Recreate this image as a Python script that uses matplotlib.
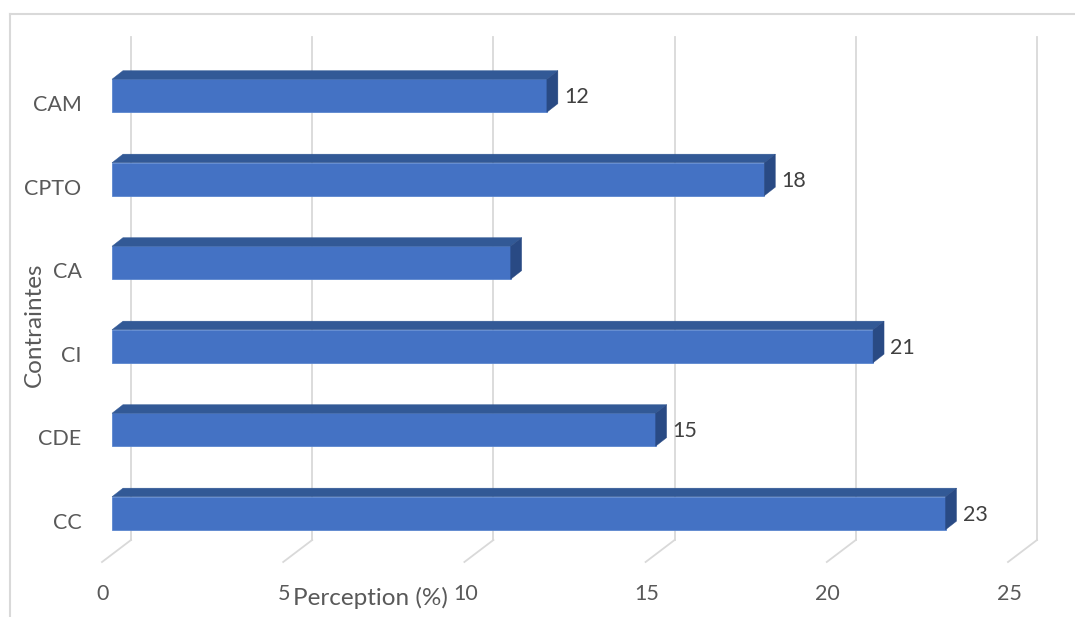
import matplotlib
matplotlib.use("Agg")
import matplotlib.pyplot as plt
from matplotlib.transforms import ScaledTranslation, blended_transform_factory
from matplotlib.patches import Polygon
from matplotlib.lines import Line2D

# ---- data ----
categories = ["CC", "CDE", "CI", "CA", "CPTO", "CAM"]
values = [23, 15, 21, 11, 18, 12]
labels_shown = [True, True, True, False, True, True]
x_ticks = [0, 5, 10, 15, 20, 25]
x_title = "Perception (%)"
y_title = "Contraintes"

FRONT = "#4472C4"
TOP = "#325996"
SIDE = "#294A84"
GRID = "#D9D9D9"
TXT = "#595959"
LBL = "#404040"

plt.rcParams['font.family'] = ['Lato', 'DejaVu Sans']

W, H = 1075, 617
dpi = 100
fig = plt.figure(figsize=(W / dpi, H / dpi), dpi=dpi)
ax = fig.add_axes([112 / W, (H - 555) / H, 906 / W, 501 / H])
ax.set_xlim(0, 25)
ax.set_ylim(-0.5, len(categories) - 0.5)
for s in ax.spines.values():
    s.set_visible(False)
ax.tick_params(length=0)

px = 1.0 / dpi
ux = 906 / 25.0   # px per x unit
uy = 501 / 6.0    # px per y unit
depth_dx, depth_dy = 11.0 / ux, 8.6 / uy
bh = 33.0 / uy

# back wall gridlines + floor lines
bt = blended_transform_factory(ax.transData, ax.transAxes)
back = bt + ScaledTranslation(19 * px, 0, fig.dpi_scale_trans)
front = bt + ScaledTranslation(-10 * px, 0, fig.dpi_scale_trans)
y_floor_back = (555 - 540) / 501.0
y_floor_front = (555 - 562) / 501.0
y_wall_top = (555 - 37) / 501.0
inv = ax.transData.inverted()
for t in x_ticks:
    ax.add_line(Line2D([t, t], [y_floor_back, y_wall_top], transform=back,
                       color=GRID, lw=1.3, clip_on=False, zorder=0))
    d0 = inv.transform(back.transform((t, y_floor_back)))
    d1 = inv.transform(front.transform((t, y_floor_front)))
    ax.add_line(Line2D([d0[0], d1[0]], [d0[1], d1[1]], color=GRID, lw=1.3,
                       clip_on=False, zorder=0))

# bars
ys = list(range(len(categories)))
ax.barh(ys, values, height=bh, color=FRONT, edgecolor="#5B86CF", linewidth=0.6, zorder=3)
for y, v, show in zip(ys, values, labels_shown):
    top = y + bh / 2
    bot = y - bh / 2
    ax.add_patch(Polygon([(0, top), (v, top), (v + depth_dx, top + depth_dy),
                          (depth_dx, top + depth_dy)], closed=True,
                         facecolor=TOP, edgecolor=TOP, lw=0.3, zorder=3, clip_on=False))
    ax.add_patch(Polygon([(v, bot), (v, top), (v + depth_dx, top + depth_dy),
                          (v + depth_dx, bot + depth_dy)], closed=True,
                         facecolor=SIDE, edgecolor=SIDE, lw=0.3, zorder=3, clip_on=False))
    if show:
        ax.text(v + depth_dx, y, str(v), ha="left", va="center", fontsize=15.5,
                color=LBL, zorder=4,
                transform=ax.transData + ScaledTranslation(6 * px, -1.5 * px, fig.dpi_scale_trans))

# ticks
ax.set_yticks(ys)
ax.set_yticklabels(categories, fontsize=15.5, color=TXT)
ax.tick_params(axis="y", pad=22)
for lab in ax.get_yticklabels():
    lab.set_transform(lab.get_transform() + ScaledTranslation(0, -7.5 * px, fig.dpi_scale_trans))
ax.set_xticks(x_ticks)
ax.set_xticklabels([str(t) for t in x_ticks], fontsize=15.5, color=TXT)
ax.tick_params(axis="x", pad=21)
for lab in ax.get_xticklabels():
    lab.set_transform(lab.get_transform() + ScaledTranslation(-9 * px, 0, fig.dpi_scale_trans))

# titles
fig.text(370 / W, (H - 605) / H, x_title, ha="center", va="baseline", fontsize=17.5, color=TXT)
fig.text(34 / W, (H - 325) / H, y_title, ha="center", va="center", rotation=90,
         fontsize=17.5, color=TXT)

# chart border (top and left visible)
fig.add_artist(Line2D([10 / W, 1.0], [(H - 14) / H, (H - 14) / H], color=GRID, lw=1.5,
                      transform=fig.transFigure))
fig.add_artist(Line2D([10 / W, 10 / W], [0, (H - 14) / H], color=GRID, lw=1.5,
                      transform=fig.transFigure))

fig.savefig("out.png", dpi=dpi, facecolor="white")
